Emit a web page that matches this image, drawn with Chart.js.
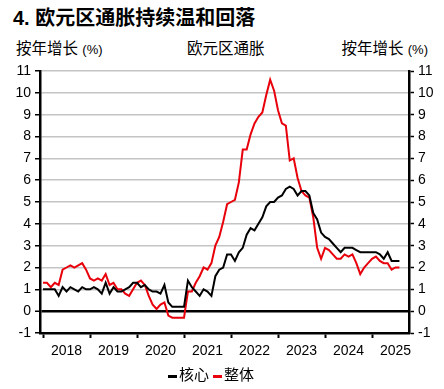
<!DOCTYPE html>
<html>
<head>
<meta charset="utf-8">
<script src="https://cdn.jsdelivr.net/npm/chart.js@4/dist/chart.umd.min.js"></script>
<style>
  body { margin: 0; background: #fff; }
  #wrap { position: relative; width: 444px; height: 389px; font-family: "Liberation Sans", "Noto Sans CJK SC", sans-serif; color: #000; }
  #chart { position: absolute; left: 0; top: 0; }
  .title { position: absolute; left: 13px; top: 7px; font-size: 20px; font-weight: bold; line-height: 22px; white-space: nowrap; }
  .sub { position: absolute; top: 41px; font-size: 15.5px; line-height: 16px; white-space: nowrap; }
  .sub small { font-size: 13px; }
  #legend { position: absolute; left: 168px; top: 367px; font-size: 15px; line-height: 16px; white-space: nowrap; }
  #legend .dash { display: inline-block; width: 9px; height: 3px; vertical-align: middle; margin-right: 2px; }
  #legend .item { margin-right: 4px; }
</style>
</head>
<body>
<div id="wrap">
  <div class="title">4. 欧元区通胀持续温和回落</div>
  <div class="sub" style="left:16px">按年增长 <small>(%)</small></div>
  <div class="sub" style="left:187px">欧元区通胀</div>
  <div class="sub" style="right:16px">按年增长 <small>(%)</small></div>
  <canvas id="chart" width="444" height="389"></canvas>
  <div id="legend"></div>
</div>
<script>
// monthly values, Dec 2017 .. Jul 2025, each plotted at the end of its month
const startYear = 2018;
const yearLabels = [2018, 2019, 2020, 2021, 2022, 2023, 2024, 2025];
const seriesNames = ["核心", "整体"];
const seriesColors = ["#000000", "#e8000b"];

const core = [
  1.0,
  1.0, 1.0, 1.0, 0.7, 1.1, 0.9, 1.1, 1.0, 0.9, 1.1, 1.0, 1.0,
  1.1, 1.0, 0.8, 1.3, 0.8, 1.1, 0.9, 0.9, 1.0, 1.1, 1.3, 1.3,
  1.1, 1.2, 1.0, 0.9, 0.9, 0.8, 1.2, 0.4, 0.2, 0.2, 0.2, 0.2,
  1.4, 1.1, 0.9, 0.7, 1.0, 0.9, 0.7, 1.6, 1.9, 2.0, 2.6, 2.6,
  2.3, 2.7, 2.9, 3.5, 3.8, 3.7, 4.0, 4.3, 4.8, 5.0, 5.0, 5.2,
  5.3, 5.6, 5.7, 5.6, 5.3, 5.5, 5.5, 5.3, 4.5, 4.2, 3.6, 3.4,
  3.3, 3.1, 2.9, 2.7, 2.9, 2.9, 2.9, 2.8, 2.7, 2.7, 2.7, 2.7,
  2.7, 2.6, 2.4, 2.7, 2.3, 2.3, 2.3
];
const headline = [
  1.3,
  1.3, 1.1, 1.3, 1.2, 1.9, 2.0, 2.1, 2.0, 2.1, 2.2, 1.9, 1.5,
  1.4, 1.5, 1.4, 1.7, 1.2, 1.3, 1.0, 1.0, 0.8, 0.7, 1.0, 1.3,
  1.4, 1.2, 0.7, 0.3, 0.1, 0.3, 0.4, -0.2, -0.3, -0.3, -0.3, -0.3,
  0.9, 0.9, 1.3, 1.6, 2.0, 1.9, 2.2, 3.0, 3.4, 4.1, 4.9, 5.0,
  5.1, 5.9, 7.4, 7.4, 8.1, 8.6, 8.9, 9.1, 9.9, 10.6, 10.1, 9.2,
  8.6, 8.5, 6.9, 7.0, 6.1, 5.5, 5.3, 5.2, 4.3, 2.9, 2.4, 2.9,
  2.8, 2.6, 2.4, 2.4, 2.6, 2.5, 2.6, 2.2, 1.7, 2.0, 2.2, 2.4,
  2.5, 2.3, 2.2, 2.2, 1.9, 2.0, 2.0
];

function toPoints(arr) {
  return arr.map((v, i) => ({ x: startYear + i / 12, y: v }));
}

const font = { family: '"Liberation Sans", Arial, sans-serif', size: 14 };

var ctx = document.getElementById("chart").getContext("2d");
var chart = new Chart(ctx, {
  type: "line",
  data: {
    datasets: [
      { label: seriesNames[0], data: toPoints(core), borderColor: seriesColors[0], borderWidth: 2, pointRadius: 0, tension: 0 },
      { label: seriesNames[1], data: toPoints(headline), borderColor: seriesColors[1], borderWidth: 2, pointRadius: 0, tension: 0 },
    ],
  },
  options: {
    responsive: false,
    animation: false,
    layout: { padding: { top: 71, bottom: 26, left: 0, right: 0 } },
    plugins: { legend: { display: false }, tooltip: { enabled: false } },
    scales: {
      x: {
        type: "linear",
        min: 2017.936,
        max: 2025.787,
        afterBuildTicks: (scale) => {
          const t = [];
          yearLabels.forEach((y) => { t.push({ value: y }); t.push({ value: y + 0.5 }); });
          scale.ticks = t;
        },
        afterFit: (scale) => { scale.height = 30; },
        ticks: {
          autoSkip: false,
          maxRotation: 0,
          color: "#000",
          font: font,
          padding: 5,
          callback: (v) => (Number.isInteger(v) ? "" : String(Math.floor(v))),
        },
        grid: {
          drawOnChartArea: false,
          tickLength: 5,
          tickWidth: 2,
          tickColor: (c) => (c.tick && Number.isInteger(c.tick.value) ? "#000" : "rgba(0,0,0,0)"),
        },
        border: { color: "#000", width: 2.5 },
      },
      y: {
        position: "left",
        min: -1,
        max: 11,
        afterFit: (scale) => { scale.width = 40; },
        ticks: { stepSize: 1, color: "#000", font: font, padding: 4 },
        grid: {
          color: (c) => (c.tick && (c.tick.value === 0 || c.tick.value === -1) ? "#000" : "#c4c4c4"),
          lineWidth: (c) => (c.tick && c.tick.value === 0 ? 2.5 : 1.5),
          tickColor: "#000",
          tickLength: 5,
          tickWidth: 1.5,
        },
        border: { color: "#000", width: 2.5 },
      },
      y2: {
        position: "right",
        min: -1,
        max: 11,
        afterFit: (scale) => { scale.width = 35; },
        ticks: { stepSize: 1, color: "#000", font: font, padding: 4 },
        grid: { drawOnChartArea: false, tickColor: "#000", tickLength: 5, tickWidth: 1.5 },
        border: { color: "#000", width: 2.5 },
      },
    },
  },
});

// legend
var legend = document.getElementById("legend");
seriesNames.forEach((name, i) => {
  var item = document.createElement("span");
  item.className = "item";
  item.innerHTML = '<span class="dash" style="background:' + seriesColors[i] + '"></span>' + name;
  legend.appendChild(item);
});
</script>
</body>
</html>
